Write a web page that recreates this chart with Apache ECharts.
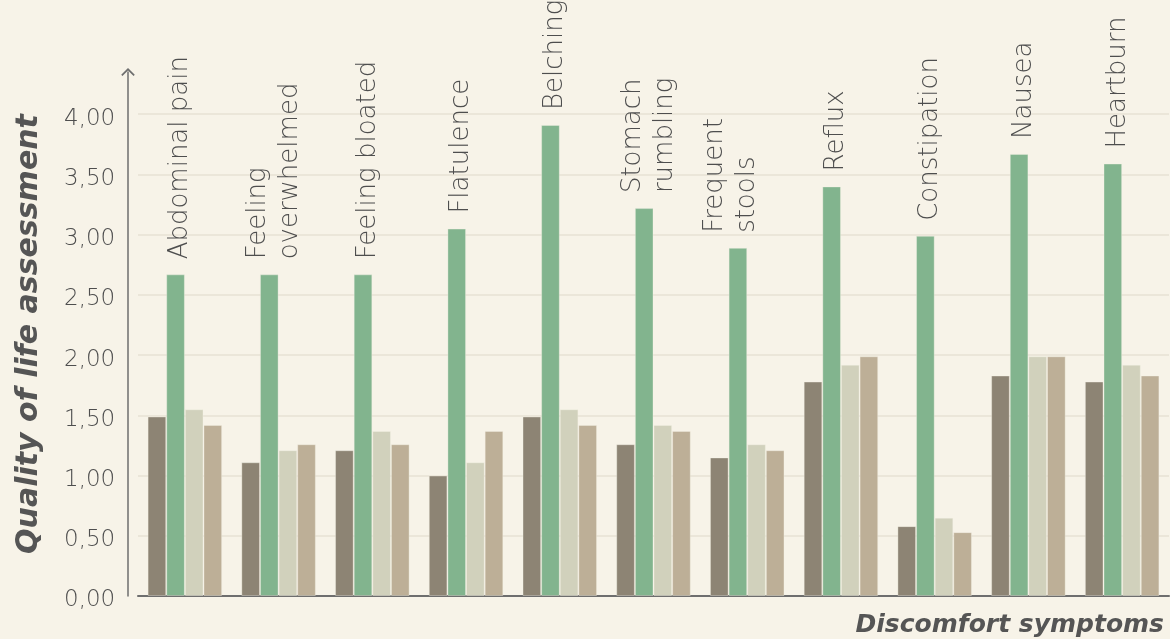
<!DOCTYPE html>
<html>
<head>
<meta charset="utf-8">
<script src="https://cdn.jsdelivr.net/npm/echarts@6/dist/echarts.min.js"></script>
<style>
html,body{margin:0;padding:0;background:#f7f3e8;}
#chart{width:1170px;height:639px;}
</style>
</head>
<body>
<div id="chart"></div>
<script>
const categories = ['Abdominal pain','Feeling\noverwhelmed','Feeling bloated','Flatulence','Belching','Stomach\nrumbling','Frequent\nstools','Reflux','Constipation','Nausea','Heartburn'];
const seriesNames = ['Group 1','Group 2','Group 3','Group 4'];
const seriesDark  = [1.49, 1.11, 1.21, 1.00, 1.49, 1.26, 1.15, 1.78, 0.58, 1.83, 1.78];
const seriesGreen = [2.67, 2.67, 2.67, 3.05, 3.91, 3.22, 2.89, 3.40, 2.99, 3.67, 3.59];
const seriesLight = [1.55, 1.21, 1.37, 1.11, 1.55, 1.42, 1.26, 1.92, 0.65, 1.99, 1.92];
const seriesTan   = [1.42, 1.26, 1.26, 1.37, 1.42, 1.37, 1.21, 1.99, 0.53, 1.99, 1.83];
const colors = ['#8d8474','#82b48e','#d1d1bc','#bdaf97'];
const yTicks = {min: 0, max: 4.35, interval: 0.5};

const chart = echarts.init(document.getElementById('chart'));
const textColor = '#4e4e4e';
const lineColor = '#6e6e6e';
const lightFont = 'DejaVu Sans';

function bar(name, data, color, withLabel) {
  const s = {
    name: name, type: 'bar', data: data,
    barGap: '0%', barCategoryGap: '20.5%',
    itemStyle: {color: color, borderColor: 'rgba(247,243,232,0.35)', borderWidth: 1},
    emphasis: {disabled: true}
  };
  if (withLabel) {
    s.data = data.map((v, i) => categories[i].indexOf('Frequent') === 0
      ? {value: v, label: {offset: [0, -7]}} : v);
    s.label = {
      show: true, position: 'top', rotate: 90, distance: 15,
      align: 'left', verticalAlign: 'middle', offset: [0, 5],
      formatter: '{b}', color: textColor,
      fontFamily: lightFont, fontWeight: 200, fontSize: 26, lineHeight: 32
    };
  }
  return s;
}

chart.setOption({
  backgroundColor: '#f7f3e8',
  animation: false,
  grid: {left: 138, right: 1, top: 72, bottom: 43, outerBoundsMode: 'none', containLabel: false},
  xAxis: {
    type: 'category', data: categories,
    axisLine: {show: true, lineStyle: {color: lineColor, width: 2}},
    axisTick: {show: false}, axisLabel: {show: false},
    name: 'Discomfort symptoms', nameLocation: 'end', nameGap: -5,
    nameTextStyle: {align: 'right', verticalAlign: 'top', padding: [17, 0, 0, 0],
      fontFamily: 'DejaVu Sans', fontWeight: 'bold', fontStyle: 'italic', fontSize: 25, color: '#555555'}
  },
  yAxis: {
    type: 'value', min: yTicks.min, max: yTicks.max, interval: yTicks.interval,
    offset: 10,
    axisLine: {show: true, lineStyle: {color: lineColor, width: 1.5},
      symbol: ['none', 'path://M0,10 L10,0 L20,10 L18.2,11.8 L10,3.6 L1.8,11.8 Z'], symbolSize: [14, 8]},
    axisTick: {show: false},
    splitLine: {show: true, showMinLine: false, showMaxLine: false, lineStyle: {color: '#ebe6d9', width: 2}},
    axisLabel: {
      showMaxLabel: false, align: 'left', margin: 64, verticalAlign: 'top', lineHeight: 9,
      formatter: v => v.toFixed(2).replace('.', ','),
      color: textColor, fontFamily: lightFont, fontWeight: 200, fontSize: 23
    },
    name: 'Quality of life assessment', nameLocation: 'middle', nameGap: 84,
    nameTextStyle: {fontFamily: 'DejaVu Sans', fontWeight: 'bold', fontStyle: 'italic', fontSize: 30, color: '#555555'}
  },
  series: [
    bar(seriesNames[0], seriesDark, colors[0], false),
    bar(seriesNames[1], seriesGreen, colors[1], true),
    bar(seriesNames[2], seriesLight, colors[2], false),
    bar(seriesNames[3], seriesTan, colors[3], false)
  ]
});
</script>
</body>
</html>
